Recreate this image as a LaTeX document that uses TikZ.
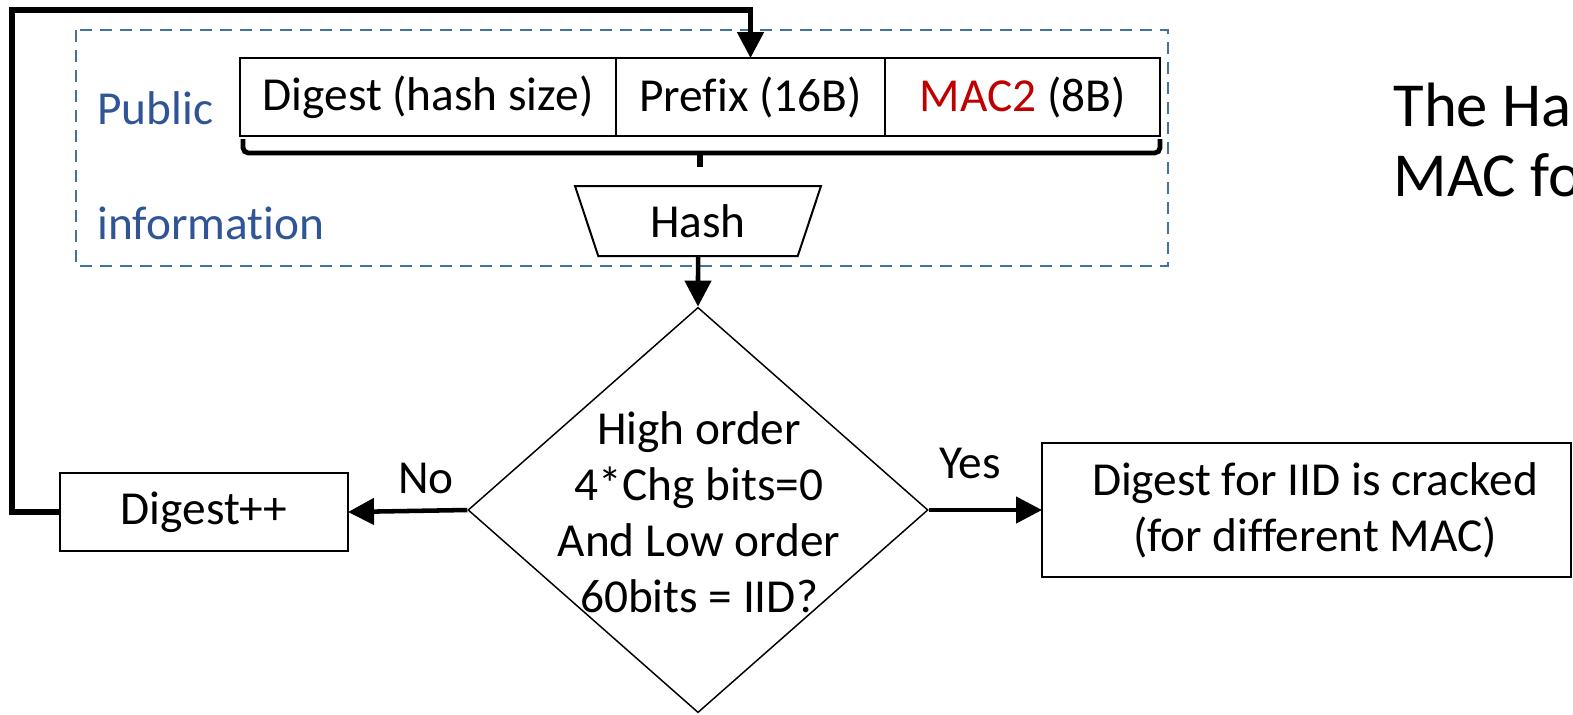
\documentclass[tikz,border=0pt]{standalone}
\usepackage{fontspec}
\setmainfont{Carlito}[Ligatures={NoCommon}]
\usetikzlibrary{arrows.meta,shapes.geometric,calc,positioning}

\definecolor{infoblue}{RGB}{47,85,151}
\definecolor{frameblue}{RGB}{68,114,160}
\definecolor{macred}{RGB}{192,0,0}

\tikzset{every picture/.style={line width=0.75pt}}
\tikzset{
  txt/.style={font=\fontsize{35.5}{42}\selectfont},
  field/.style={txt, draw, line width=1.5pt, outer sep=0pt, inner sep=0pt, minimum height=58.5pt},
  flow/.style={line width=3.4pt, -{Triangle[length=19.5pt,width=19.5pt]}},
  bracket/.style={line width=3.6pt, rounded corners=4pt},
}

\begin{document}
\begin{tikzpicture}[x=0.75pt,y=0.75pt,yscale=-1,xscale=1]
		\useasboundingbox (0,0) rectangle (1573,714);
		\clip (0,0) rectangle (1573,714);
		
		%Shape: Rectangle [public information frame]
		\draw [color=frameblue, line width=1.1pt, dash pattern={on 9pt off 6pt}] (76,30) rectangle (1168,266);
		% Text Node
		\node [txt, text=infoblue, anchor=west, inner sep=0pt] (pub) at (97,108) {Public};
		% Text Node
		\node [txt, text=infoblue, anchor=west, inner sep=0pt] (info) at (97,223) {information};
		
		%Shape: Rectangle [input fields]
		\node [field, minimum width=282pt] (digest) at (428,97) {Digest (hash size)};
		\node [field, minimum width=201.75pt, right=0pt of digest] (prefix) {Prefix (16B)};
		\node [field, minimum width=206.25pt, right=0pt of prefix] (mac) {\textcolor{macred}{MAC2} (8B)};
		
		%Straight Lines [bracket under the fields]
		\draw [bracket] ($(digest.south west)+(3,3)$) |- ($(mac.south east)+(0,17)$) -- ($(mac.south east)+(0,3)$);
		\coordinate (brtop) at ($(digest.south west)!0.5!(mac.south east)+(0,17)$);
		\coordinate (brend) at ($(brtop)+(0,14)$);
		\draw [line width=4.2pt] (brtop) -- (brend);
		
		%Shape: Trapezium [hash]
		\node [txt, draw, line width=1.5pt, trapezium, shape border rotate=180, trapezium angle=55,
		       trapezium stretches body, minimum width=184.5pt, minimum height=52.5pt, inner sep=0pt] (hash) at (698,221) {Hash};
		
		%Shape: Diamond [check]
		\node [draw, diamond, line width=1.1pt, minimum width=345pt, minimum height=304pt, inner sep=0pt] (check) at (698,510) {};
		% Text Node
		\node [txt, align=center, inner sep=0pt] (checktxt) at (699,512) {High order\\4*Chg bits=0\\And Low order\\60bits = IID?};
		
		%Shape: Rectangle [next digest]
		\node [field, minimum width=216pt] (inc) at (204,512) {Digest++};
		%Shape: Rectangle [result]
		\node [draw, line width=1.5pt, outer sep=0pt, anchor=west, minimum width=396.75pt, minimum height=100.5pt] (done) at (1042,510) {};
		% Text Node
		\node [txt, align=center, inner sep=0pt] (donetxt) at (1315,510) {Digest for IID is cracked\\(for different MAC)};
		
		%Straight Lines [arrows]
		\draw [flow] (hash.south) -- (check.north);
		\draw [flow] (check.west) -- (inc.east);
		\draw [flow] (check.east) -- (done.west);
		\coordinate (loopc) at (12,10);
		\draw [flow, line width=3.8pt] (inc.west) -| (loopc) -| (prefix.north);
		
		% Text Node
		\node [txt, inner sep=0pt] (no) at (426,478) {No};
		% Text Node
		\node [txt, inner sep=0pt] (yes) at (970,463) {Yes};
		% Text Node
		\node [anchor=west, align=left, inner sep=0pt, font=\fontsize{47}{52.5}\selectfont] (title) at (1393,140) {The Ha\\MAC fo};
	\end{tikzpicture}
\end{document}
